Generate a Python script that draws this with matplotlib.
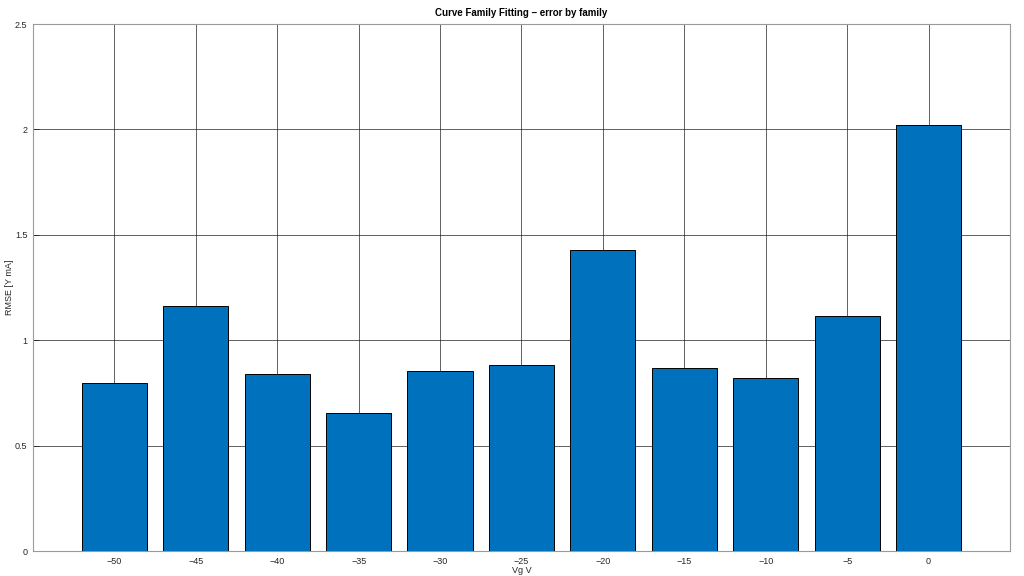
import matplotlib
matplotlib.use("Agg")
import matplotlib.pyplot as plt

vg = [-50, -45, -40, -35, -30, -25, -20, -15, -10, -5, 0]
rmse = [0.797, 1.162, 0.840, 0.655, 0.854, 0.882, 1.428, 0.868, 0.821, 1.115, 2.021]
yticks = [0, 0.5, 1, 1.5, 2, 2.5]
ytick_labels = ["0", "0.5", "1", "1.5", "2", "2.5"]

plt.rcParams['font.family'] = ['Liberation Sans', 'DejaVu Sans']

fig = plt.figure(figsize=(10.24, 5.76), dpi=100)
ax = fig.add_axes([0.0322, 0.0434, 0.9541, 0.9149])
ax.bar(vg, rmse, width=4, color='#0072BD', edgecolor='black', linewidth=0.7, zorder=3)
ax.set_xlim(-55, 5)
ax.set_ylim(0, 2.5)
ax.set_xticks(vg)
ax.set_xticklabels([str(v).replace('-', '\u2212') for v in vg])
ax.set_yticks(yticks)
ax.set_yticklabels(ytick_labels)
ax.grid(True, color='#262626', linewidth=0.6, alpha=0.85, zorder=0)
ax.set_axisbelow(True)
ax.tick_params(direction='in', length=4, width=0.6, labelsize=6.5, colors='#262626', pad=4)
for s in ax.spines.values():
    s.set_color('#9a9a9a')
    s.set_linewidth(0.8)
ax.set_xlabel('Vg V', fontsize=6.5, color='#262626', labelpad=0)
ax.set_ylabel('RMSE [Y mA]', fontsize=6.5, color='#262626', labelpad=1)
ax.set_title('Curve Family Fitting \u2013 error by family', fontsize=7, fontweight='bold', pad=6)
fig.savefig('out.png', dpi=100)
